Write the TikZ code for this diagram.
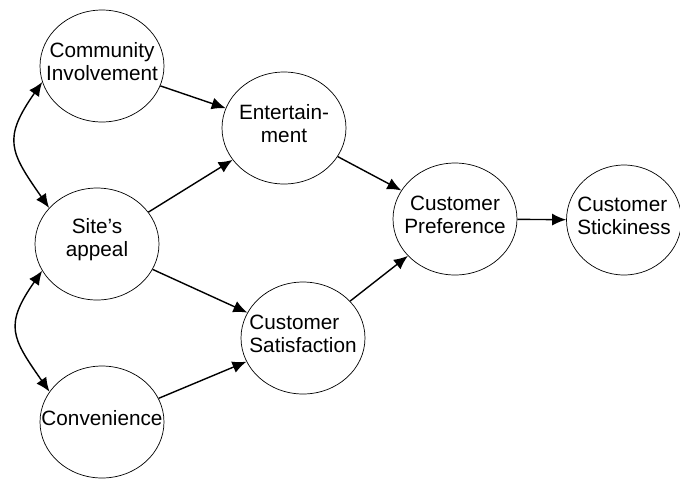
\documentclass[tikz,border=0pt]{standalone}
\usepackage{fontspec}
\setmainfont{Liberation Sans}
\usepackage{tikz}
\usetikzlibrary{shapes.geometric, arrows.meta}
\tikzset{
  oval/.style={draw, ellipse, minimum width=2.48cm, minimum height=2.24cm, inner sep=0pt},
  factor/.style={oval, label={[align=center, yshift=0.08cm, font=\fontsize{11.8}{13}\selectfont]center:#1}},
  lfactor/.style={oval, label={[align=left, yshift=0.08cm, font=\fontsize{11.8}{13}\selectfont]center:#1}},
}
\tikzstyle{link} = [-{Latex[length=2.8mm, width=2.4mm]}, thick]
\tikzstyle{corr} = [{Latex[length=2.8mm, width=2.4mm]}-{Latex[length=2.8mm, width=2.4mm]}, thick]

\begin{document}
\begin{tikzpicture}[x=0.02cm, y=-0.02cm]
    \useasboundingbox (0,0) rectangle (680,478);

    % 放置节点
    \node [factor={Community\\Involvement}] (comm) at (102,66) {};
    \node [factor={Site's\\appeal}] (site) at (97,244) {};
    \node [factor=Convenience] (conv) at (102,422) {};
    \node [factor={Entertain-\\ment}] (ent) at (284,128) {};
    \node [lfactor={Customer\\Satisfaction}] (sat) at (303,338) {};
    \node [factor={Customer\\Preference}] (pref) at (455,219) {};
    \node [lfactor={Customer\\Stickiness}, minimum width=2.3cm, minimum height=2.2cm] (stick) at (624,220) {};

    \draw [link] (comm) -- (ent);
    \draw [link] (site) -- (ent);
    \draw [link] (site) -- (sat);
    \draw [link] (conv) -- (sat);
    \draw [link] (ent) -- (pref);
    \draw [link] (sat) -- (pref);
    \draw [link] (pref) -- (stick);
    \draw [corr] (comm.195) to [out=235, in=125, looseness=1.4] (site.143);
    \draw [corr] (site.206) to [out=235, in=125, looseness=1.4] (conv.150);
\end{tikzpicture}
\end{document}
